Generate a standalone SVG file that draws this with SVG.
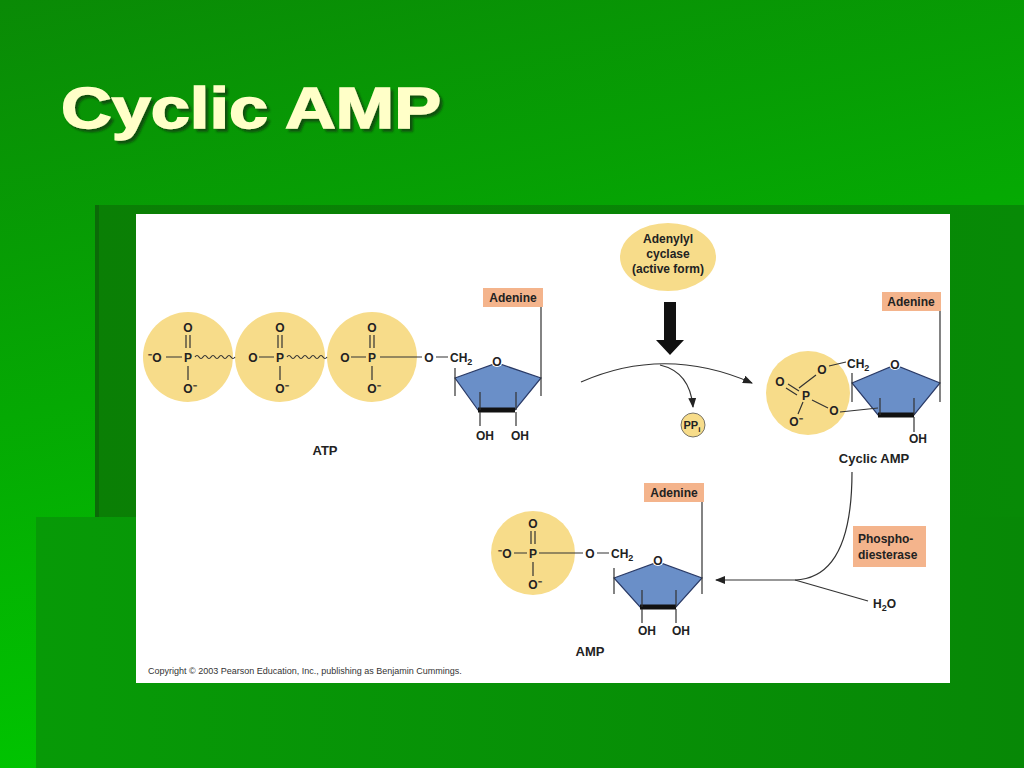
<svg xmlns="http://www.w3.org/2000/svg" width="1024" height="768" viewBox="0 0 1024 768">
<defs>
<linearGradient id="bg" x1="0" y1="0" x2="0.3" y2="1"><stop offset="0" stop-color="#0a8a06"/><stop offset="1" stop-color="#00c800"/></linearGradient>
<linearGradient id="p1" x1="0" y1="0" x2="1" y2="0"><stop offset="0" stop-color="#0a7f05"/><stop offset="1" stop-color="#078a06"/></linearGradient>
<linearGradient id="p2" x1="0" y1="0" x2="1" y2="0"><stop offset="0" stop-color="#079a07"/><stop offset="1" stop-color="#078806"/></linearGradient>
<filter id="sh" x="-5%" y="-20%" width="110%" height="140%"><feDropShadow dx="3" dy="3" stdDeviation="1" flood-color="#143010" flood-opacity="0.7"/></filter>
<marker id="ah" markerWidth="10" markerHeight="8" refX="9" refY="4" orient="auto" markerUnits="userSpaceOnUse"><path d="M0,0 L10,4 L0,8 Z" fill="#222"/></marker>
<style>
text{font-family:"Liberation Sans",Arial,sans-serif;font-weight:bold;fill:#222;font-size:12px}
.c{text-anchor:middle}
.ph{fill:#f7dc8a}
.ln{stroke:#333;stroke-width:1.2;fill:none}
.rib{fill:#6a8fc8;stroke:#2a3a66;stroke-width:1.2}
.ad{fill:#f4b48c}
.lab{font-size:13px}
</style>
</defs>
<rect width="1024" height="768" fill="url(#bg)"/>
<rect x="95" y="205" width="929" height="563" fill="url(#p1)"/>
<rect x="36" y="517" width="988" height="251" fill="url(#p2)"/>
<rect x="95" y="205" width="4" height="312" fill="#0b6a08"/>
<text x="61" y="128" textLength="380" lengthAdjust="spacingAndGlyphs" filter="url(#sh)" style="font-size:58px;fill:#ffffc8;stroke:#ffffc8;stroke-width:1.5">Cyclic AMP</text>
<rect x="136" y="214" width="814" height="469" fill="#ffffff"/>

<g id="atp">
<circle class="ph" cx="188" cy="357" r="45"/><circle class="ph" cx="280" cy="357" r="45"/><circle class="ph" cx="372" cy="357" r="45"/>
<text class="c" x="188" y="332">O</text><text class="c" x="280" y="332">O</text><text class="c" x="372" y="332">O</text>
<path class="ln" d="M186,335V348M190,335V348M278,335V348M282,335V348M370,335V348M374,335V348M188,366V380M280,366V380M372,366V380"/>
<text class="c" x="188" y="362">P</text><text class="c" x="280" y="362">P</text><text class="c" x="372" y="362">P</text>
<text class="c" x="190" y="393">O⁻</text><text class="c" x="282" y="393">O⁻</text><text class="c" x="374" y="393">O⁻</text>
<text class="c" x="155" y="362">⁻O</text><text class="c" x="253" y="362">O</text><text class="c" x="345" y="362">O</text>
<path class="ln" d="M166,357H182M259,357H274M351,357H366M380,357H422M436,357H448"/>
<path class="ln" d="M195,357q2,-3 4,0t4,0t4,0t4,0t4,0t4,0t4,0t4,0t4,0t4,0M287,357q2,-3 4,0t4,0t4,0t4,0t4,0t4,0t4,0t4,0t4,0t4,0"/>
<text class="c" x="429" y="362">O</text><text x="450" y="362">CH<tspan font-size="9" dy="3">2</tspan></text>
<path class="rib" d="M455,378L497,363L541,378L515,410L478,410Z"/>
<path d="M478,410H515" stroke="#111" stroke-width="5"/>
<path class="ln" d="M455,368V396M541,307V396M480,392V410M516,392V410M480,412V426M516,412V426"/>
<circle cx="497" cy="361" r="6" fill="#fff"/><text class="c" x="497" y="366">O</text>
<text class="c" x="485" y="440">OH</text><text class="c" x="520" y="440">OH</text>
<rect class="ad" x="483" y="288" width="60" height="19"/><text class="c" x="513" y="302">Adenine</text>
<text class="c lab" x="325" y="455">ATP</text>
</g>

<g id="cyclase">
<ellipse class="ph" cx="668" cy="257" rx="48" ry="34"/>
<text class="c" x="668" y="243">Adenylyl</text><text class="c" x="668" y="258">cyclase</text><text class="c" x="668" y="273">(active form)</text>
<path d="M664,302H676V340H684L670,355L656,340H664Z" fill="#111"/>
</g>
<g id="ppi"><circle class="ph" cx="693" cy="425" r="12" stroke="#555" stroke-width="0.8"/><text class="c" x="692" y="429" style="font-size:11px">PP<tspan font-size="8" dy="3">i</tspan></text></g>

<g id="camp">
<circle class="ph" cx="808" cy="393" r="42"/>
<path class="rib" d="M852,383L895,365L940,383L914,415L878,415Z"/>
<path d="M878,415H914" stroke="#111" stroke-width="5"/>
<path class="ln" d="M852,373V402M940,311V402M880,398V415M914,398V415M914,417V432M829,366L846,362M799,388L816,375M788,384L799,391M786,388L797,395M812,400L828,408M840,412L878,408M803,402L798,414"/>
<circle cx="895" cy="364" r="6" fill="#fff"/><text class="c" x="895" y="369">O</text>
<text class="c" x="822" y="374">O</text><text x="847" y="368">CH<tspan font-size="9" dy="3">2</tspan></text>
<text class="c" x="780" y="386">O</text><text class="c" x="806" y="400">P</text><text class="c" x="834" y="415">O</text><text class="c" x="796" y="426">O⁻</text>
<text class="c" x="918" y="443">OH</text>
<rect class="ad" x="882" y="292" width="59" height="19"/><text class="c" x="911" y="306">Adenine</text>
<text class="c lab" x="874" y="463">Cyclic AMP</text>
</g>

<g id="pde"><rect class="ad" x="853" y="526" width="73" height="41"/><text x="858" y="543">Phospho-</text><text x="858" y="559">diesterase</text></g>
<g id="h2o"><text x="873" y="608">H<tspan font-size="9" dy="3">2</tspan><tspan dy="-3">O</tspan></text></g>

<g id="amp">
<circle class="ph" cx="533" cy="553" r="42"/>
<text class="c" x="533" y="528">O</text><path class="ln" d="M531,531V544M535,531V544M533,562V576M514,553H527M539,553H583M597,553H609"/>
<text class="c" x="533" y="558">P</text><text class="c" x="535" y="589">O⁻</text><text class="c" x="505" y="558">⁻O</text>
<text class="c" x="590" y="558">O</text><text x="611" y="558">CH<tspan font-size="9" dy="3">2</tspan></text>
<path class="rib" d="M614,578L658,562L702,578L676,607L640,607Z"/>
<path d="M640,607H676" stroke="#111" stroke-width="5"/>
<path class="ln" d="M614,568V594M702,502V594M642,590V607M676,590V607M642,609V623M676,609V623"/>
<circle cx="658" cy="560" r="6" fill="#fff"/><text class="c" x="658" y="565">O</text>
<text class="c" x="647" y="635">OH</text><text class="c" x="681" y="635">OH</text>
<rect class="ad" x="644" y="483" width="60" height="19"/><text class="c" x="674" y="497">Adenine</text>
<text class="c lab" x="590" y="656">AMP</text>
</g>

<g id="connectors">
<path class="ln" d="M581,382Q665,345 752,383" marker-end="url(#ah)"/>
<path class="ln" d="M660,365Q690,372 693,407" marker-end="url(#ah)"/>
<path class="ln" d="M852,472Q852,578 795,580" />
<path class="ln" d="M795,580H716" marker-end="url(#ah)"/>
<path class="ln" d="M795,580L868,601"/>
</g>
<text x="148" y="674" style="font-size:9px;font-weight:normal;fill:#333">Copyright © 2003 Pearson Education, Inc., publishing as Benjamin Cummings.</text>
</svg>
